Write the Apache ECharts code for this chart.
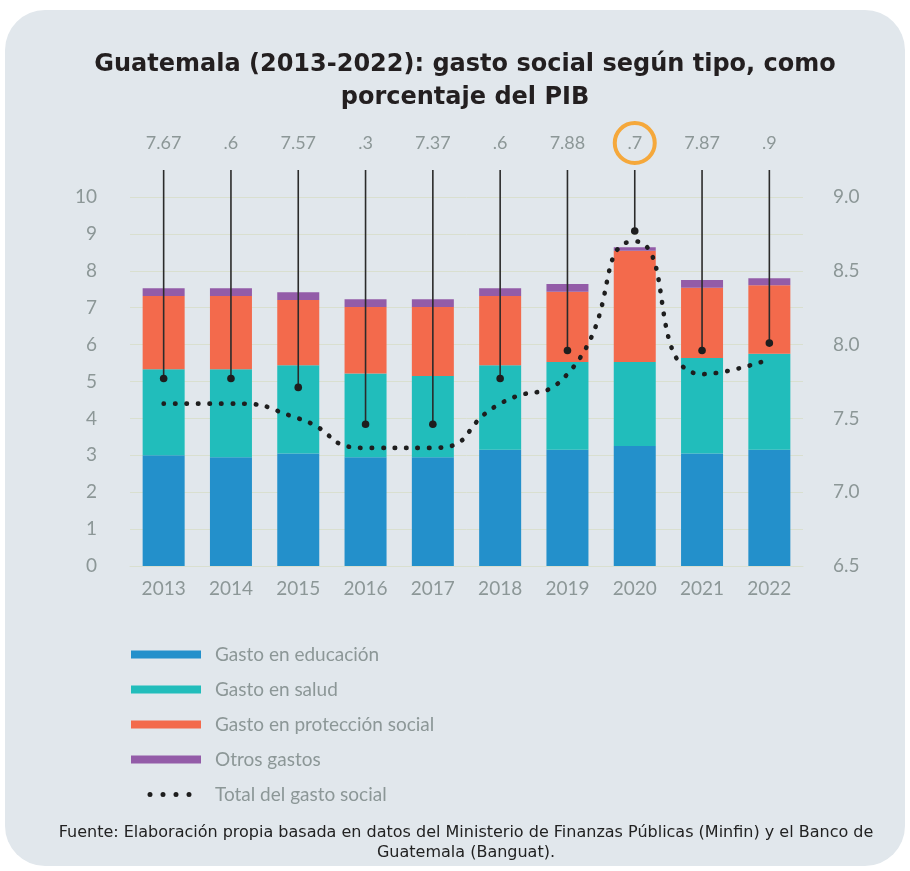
<!DOCTYPE html>
<html>
<head>
<meta charset="utf-8">
<script src="https://cdn.jsdelivr.net/npm/echarts@6/dist/echarts.min.js"></script>
<style>
  html, body { margin: 0; padding: 0; background: #ffffff; }
  #main { width: 910px; height: 871px; }
</style>
</head>
<body>
<div id="main"></div>
<script>
// datos
var years = ['2013', '2014', '2015', '2016', '2017', '2018', '2019', '2020', '2021', '2022'];
var educacion = [3.0, 2.95, 3.05, 2.95, 2.95, 3.15, 3.15, 3.25, 3.05, 3.15];
var salud = [2.33, 2.38, 2.39, 2.27, 2.2, 2.29, 2.38, 2.28, 2.59, 2.6];
var proteccion = [1.99, 1.99, 1.77, 1.8, 1.87, 1.88, 1.9, 3.01, 1.9, 1.86];
var otros = [0.21, 0.21, 0.21, 0.21, 0.21, 0.21, 0.21, 0.1, 0.21, 0.19];
var totalGasto = [7.6, 7.6, 7.5, 7.3, 7.3, 7.6, 7.8, 8.7, 7.8, 7.9];
var marcadores = [7.77, 7.77, 7.71, 7.46, 7.46, 7.77, 7.96, 8.77, 7.96, 8.01];
var etiquetas = ['7.67', '.6', '7.57', '.3', '7.37', '.6', '7.88', '.7', '7.87', '.9'];
var resaltado = 7;

var gris = '#8c9797';
var lineaGrid = '#d9dfcf';

var myChart = echarts.init(document.getElementById('main'));

myChart.setOption({
  animation: false,
  textStyle: { fontFamily: 'Lato' },
  graphic: [
    {
      type: 'rect',
      z: -10,
      shape: { x: 5, y: 10, width: 900, height: 856, r: 40 },
      style: { fill: '#e1e7ec' }
    }
  ],
  title: [
    {
      text: 'Guatemala (2013-2022): gasto social según tipo, como\nporcentaje del PIB',
      left: 465,
      top: 48,
      textAlign: 'center',
      padding: 0,
      textStyle: {
        fontFamily: 'DejaVu Sans',
        fontWeight: 700,
        fontSize: 24,
        lineHeight: 33,
        color: '#231f20'
      }
    },
    {
      text: 'Fuente: Elaboración propia basada en datos del Ministerio de Finanzas Públicas (Minfin) y el Banco de\nGuatemala (Banguat).',
      left: 466,
      top: 823,
      textAlign: 'center',
      padding: 0,
      textStyle: {
        fontFamily: 'DejaVu Sans',
        fontWeight: 400,
        fontSize: 16,
        lineHeight: 20,
        color: '#222222'
      }
    }
  ],
  grid: {
    left: 130,
    right: 107,
    top: 197,
    bottom: 305
  },
  legend: {
    orient: 'vertical',
    left: 126,
    top: 640,
    itemWidth: 70,
    itemHeight: 8,
    itemGap: 16,
    selectedMode: false,
    textStyle: { fontFamily: 'Lato', fontSize: 19, color: gris, padding: [0, 0, 0, 9] },
    data: [
      { name: 'Gasto en educación', icon: 'rect' },
      { name: 'Gasto en salud', icon: 'rect' },
      { name: 'Gasto en protección social', icon: 'rect' },
      { name: 'Otros gastos', icon: 'rect' },
      {
        name: 'Total del gasto social',
        icon: 'path://M0,0 M70,8 M16.5,4 a2.5,2.5 0 1,0 5,0 a2.5,2.5 0 1,0 -5,0 Z M29.5,4 a2.5,2.5 0 1,0 5,0 a2.5,2.5 0 1,0 -5,0 Z M42.5,4 a2.5,2.5 0 1,0 5,0 a2.5,2.5 0 1,0 -5,0 Z M55.5,4 a2.5,2.5 0 1,0 5,0 a2.5,2.5 0 1,0 -5,0 Z'
      }
    ]
  },
  xAxis: {
    type: 'category',
    data: years,
    axisTick: { show: false },
    axisLine: { show: true, lineStyle: { color: lineaGrid, width: 1 } },
    axisLabel: { color: gris, fontSize: 19, margin: 13 }
  },
  yAxis: [
    {
      type: 'value',
      min: 0,
      max: 10,
      interval: 1,
      axisLine: { show: false },
      axisTick: { show: false },
      splitLine: { show: true, lineStyle: { color: lineaGrid, width: 1 } },
      axisLabel: { color: gris, fontSize: 19, margin: 33 }
    },
    {
      type: 'value',
      min: 6.5,
      max: 9.0,
      interval: 0.5,
      axisLine: { show: false },
      axisTick: { show: false },
      splitLine: { show: false },
      axisLabel: {
        color: gris,
        fontSize: 19,
        margin: 30,
        formatter: function (v) { return v.toFixed(1); }
      }
    }
  ],
  series: [
    {
      name: 'Gasto en educación',
      type: 'bar',
      stack: 'gasto',
      barWidth: 42,
      data: educacion,
      itemStyle: { color: '#2390cb' }
    },
    {
      name: 'Gasto en salud',
      type: 'bar',
      stack: 'gasto',
      data: salud,
      itemStyle: { color: '#21bdbb' }
    },
    {
      name: 'Gasto en protección social',
      type: 'bar',
      stack: 'gasto',
      data: proteccion,
      itemStyle: { color: '#f36a4c' }
    },
    {
      name: 'Otros gastos',
      type: 'bar',
      stack: 'gasto',
      data: otros,
      itemStyle: { color: '#935ca8' }
    },
    {
      name: 'Total del gasto social',
      type: 'line',
      yAxisIndex: 1,
      smooth: 0.6,
      symbol: 'none',
      z: 4,
      data: totalGasto,
      itemStyle: { color: '#1e1e1e' },
      lineStyle: { color: '#1e1e1e', width: 4.6, type: [0.5, 11], cap: 'round' }
    },
    {
      name: 'marcadores',
      type: 'custom',
      yAxisIndex: 1,
      z: 5,
      data: marcadores.map(function (v, i) { return [i, v]; }),
      renderItem: function (params, api) {
        var i = api.value(0);
        var pt = api.coord([i, api.value(1)]);
        var top = params.coordSys.y - 27;
        var labelY = params.coordSys.y - 54;
        var children = [
          {
            type: 'line',
            shape: { x1: pt[0], y1: top, x2: pt[0], y2: pt[1] },
            style: { stroke: '#2b2b2b', lineWidth: 1.6 }
          },
          {
            type: 'circle',
            shape: { cx: pt[0], cy: pt[1], r: 3.8 },
            style: { fill: '#1e1e1e' }
          },
          {
            type: 'text',
            x: pt[0],
            y: labelY,
            style: {
              text: etiquetas[i],
              fill: gris,
              font: '18px Lato',
              align: 'center',
              verticalAlign: 'middle'
            }
          }
        ];
        if (i === resaltado) {
          children.push({
            type: 'circle',
            shape: { cx: pt[0], cy: labelY, r: 20 },
            style: { fill: 'none', stroke: '#f5a83b', lineWidth: 4 }
          });
        }
        return { type: 'group', children: children };
      }
    }
  ]
});
</script>
</body>
</html>
